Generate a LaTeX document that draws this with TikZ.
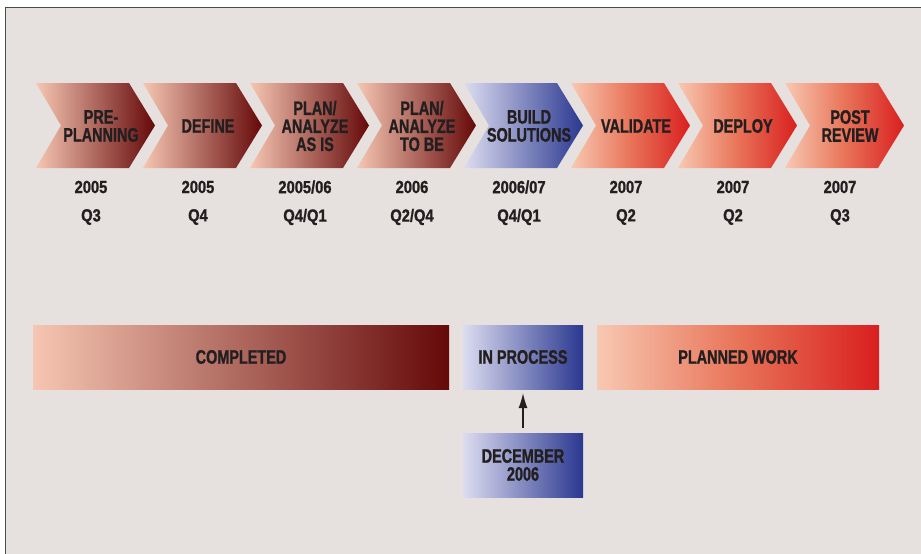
\documentclass[tikz,border=0pt]{standalone}
\usepackage{fontspec}
\setmainfont{Liberation Sans}[FakeStretch=0.74, BoldFeatures={FakeBold=1.2}]
\newfontfamily\datefont{Liberation Sans}[FakeStretch=0.84, BoldFeatures={FakeBold=1.2}]
\usetikzlibrary{arrows.meta}
\definecolor{paper}{HTML}{E6E1DE}
\definecolor{ink}{HTML}{231F20}
\definecolor{donelight}{HTML}{F6C6B2}
\definecolor{donedark}{HTML}{650909}
\definecolor{proclight}{HTML}{DCDCF0}
\definecolor{procdark}{HTML}{2A3890}
\definecolor{planlight}{HTML}{F8C8B2}
\definecolor{planmid}{HTML}{E87458}
\definecolor{plandark}{HTML}{D91F1F}
\begin{document}
\begin{tikzpicture}[x=1pt, y=-1pt,
    done/.style={left color=donelight, right color=donedark},
    doing/.style={left color=proclight, right color=procdark},
    todo/.style={left color=planlight, right color=plandark, middle color=planmid},
    phase/.style={text=ink, align=center, font=\bfseries\fontsize{19.5}{18}\selectfont},
    when/.style={text=ink, font=\datefont\bfseries\fontsize{17.5}{18}\selectfont},
    bar/.style={phase, minimum height=64pt, inner sep=0pt}]
        \useasboundingbox (0,0) rectangle (921,554);
        \fill[paper] (5,7) rectangle (921,554);
        \draw[black!70, line width=0.8pt] (5,554) -- (5,7) -- (921,7);

        % phases
        \shade[done]  (36,83) -- (129,83) -- (155,125.5) -- (129,168) -- (36,168) -- (61,125.5) -- cycle;
        \shade[done]  (143,83) -- (236,83) -- (262,125.5) -- (236,168) -- (143,168) -- (168,125.5) -- cycle;
        \shade[done]  (250,83) -- (343,83) -- (369,125.5) -- (343,168) -- (250,168) -- (275,125.5) -- cycle;
        \shade[done]  (357,83) -- (450,83) -- (476,125.5) -- (450,168) -- (357,168) -- (382,125.5) -- cycle;
        \shade[doing] (464,83) -- (557,83) -- (583,125.5) -- (557,168) -- (464,168) -- (489,125.5) -- cycle;
        \shade[todo]  (571,83) -- (664,83) -- (690,125.5) -- (664,168) -- (571,168) -- (596,125.5) -- cycle;
        \shade[todo]  (678,83) -- (771,83) -- (797,125.5) -- (771,168) -- (678,168) -- (703,125.5) -- cycle;
        \shade[todo]  (785,83) -- (878,83) -- (904,125.5) -- (878,168) -- (785,168) -- (810,125.5) -- cycle;

        \node[phase] (preplan)  at (101,126) {PRE-\\PLANNING};
        \node[phase] (define)   at (208,126) {DEFINE};
        \node[phase] (asis)     at (315,126) {PLAN/\\ANALYZE\\AS IS};
        \node[phase] (tobe)     at (422,126) {PLAN/\\ANALYZE\\TO BE};
        \node[phase] (build)    at (529,126) {BUILD\\SOLUTIONS};
        \node[phase] (validate) at (636,126) {VALIDATE};
        \node[phase] (deploy)   at (743,126) {DEPLOY};
        \node[phase] (review)   at (850,126) {POST\\REVIEW};

        % dates
        \node[when] (yearA) at (91,187)  {2005};    \node[when] (qtrA) at (91,217)  {Q3};
        \node[when] (yearB) at (198,187) {2005};    \node[when] (qtrB) at (198,217) {Q4};
        \node[when] (yearC) at (305,187) {2005/06}; \node[when] (qtrC) at (305,217) {Q4/Q1};
        \node[when] (yearD) at (412,187) {2006};    \node[when] (qtrD) at (412,217) {Q2/Q4};
        \node[when] (yearE) at (519,187) {2006/07}; \node[when] (qtrE) at (519,217) {Q4/Q1};
        \node[when] (yearF) at (626,187) {2007};    \node[when] (qtrF) at (626,217) {Q2};
        \node[when] (yearG) at (733,187) {2007};    \node[when] (qtrG) at (733,217) {Q2};
        \node[when] (yearH) at (840,187) {2007};    \node[when] (qtrH) at (840,217) {Q3};

        % legend
        \node[bar, done,  minimum width=416pt] (completed) at (241,357) {COMPLETED};
        \node[bar, doing, minimum width=120pt] (inproc)    at (523,357) {IN PROCESS};
        \node[bar, todo,  minimum width=282pt] (planned)   at (738,357) {PLANNED WORK};
        \node[bar, doing, minimum width=120pt] (dec)       at (523,465) {DECEMBER\\2006};

        \draw[ink, line width=1.1pt, -{Latex[length=15pt,width=9pt]},
              shorten <=5pt, shorten >=4pt] (dec) -- (inproc);
      \end{tikzpicture}
\end{document}
